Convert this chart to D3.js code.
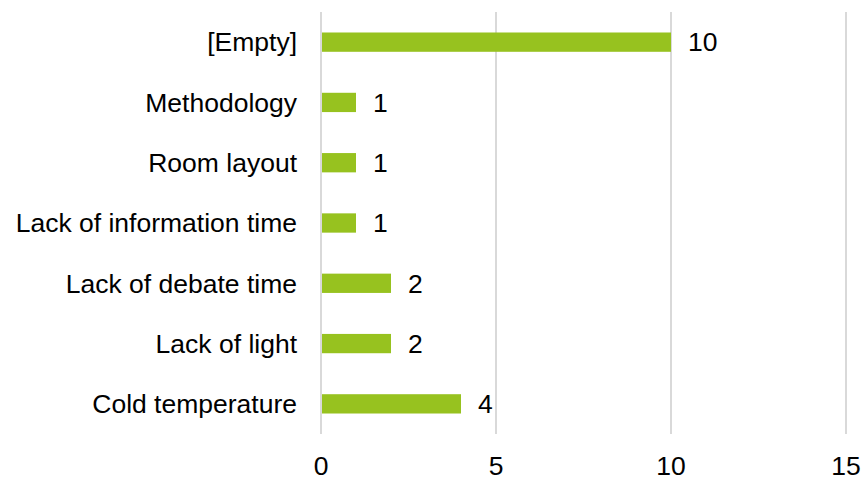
<!DOCTYPE html>
<html>
<head>
<meta charset="utf-8">
<script src="https://cdn.jsdelivr.net/npm/d3@7"></script>
<style>
	body { margin: 0; background: #ffffff; }
	svg text { font-family: "Liberation Sans", Arial, sans-serif; fill: #000; }
</style>
</head>
<body>
<script>
// chart data
var categories = ["[Empty]", "Methodology", "Room layout", "Lack of information time", "Lack of debate time", "Lack of light", "Cold temperature"];
var counts = [10, 1, 1, 1, 2, 2, 4];
var xTicks = [0, 5, 10, 15];

var width = 864, height = 478;
var plotLeft = 321, plotRight = 846, plotTop = 12, plotBottom = 434;
var fontSize = "26.5px";

var svg = d3.select("body").append("svg")
	.attr("width", width)
	.attr("height", height);

var x = d3.scaleLinear().domain([0, 15]).range([plotLeft, plotRight]);
var y = d3.scaleBand().domain(categories).range([plotTop, plotBottom]).paddingInner(0.68).paddingOuter(0.34);

// vertical gridlines
svg.append("g").selectAll("line")
	.data(xTicks)
	.enter()
	.append("line")
	.attr("x1", function(d) { return x(d); })
	.attr("x2", function(d) { return x(d); })
	.attr("y1", plotTop)
	.attr("y2", plotBottom)
	.attr("stroke", "#d9d9d9")
	.attr("stroke-width", 2);

// bars
svg.append("g").selectAll("rect")
	.data(counts)
	.enter()
	.append("rect")
	.attr("x", x(0) + 1)
	.attr("y", function(d, i) { return y(categories[i]); })
	.attr("width", function(d) { return x(d) - x(0) - 1; })
	.attr("height", y.bandwidth())
	.attr("fill", "#97c21f");

// value labels
svg.append("g").selectAll("text")
	.data(counts)
	.enter()
	.append("text")
	.attr("x", function(d) { return x(d) + 17; })
	.attr("y", function(d, i) { return y(categories[i]) + y.bandwidth() / 2; })
	.attr("dy", "0.35em")
	.style("font-size", fontSize)
	.text(function(d) { return d; });

// category labels
svg.append("g").selectAll("text")
	.data(categories)
	.enter()
	.append("text")
	.attr("x", plotLeft - 24)
	.attr("y", function(d) { return y(d) + y.bandwidth() / 2; })
	.attr("dy", "0.35em")
	.attr("text-anchor", "end")
	.style("font-size", fontSize)
	.text(function(d) { return d; });

// x tick labels
svg.append("g").selectAll("text")
	.data(xTicks)
	.enter()
	.append("text")
	.attr("x", function(d) { return x(d); })
	.attr("y", 466)
	.attr("dy", "0.35em")
	.attr("text-anchor", "middle")
	.style("font-size", fontSize)
	.text(function(d) { return d; });
</script>
</body>
</html>
